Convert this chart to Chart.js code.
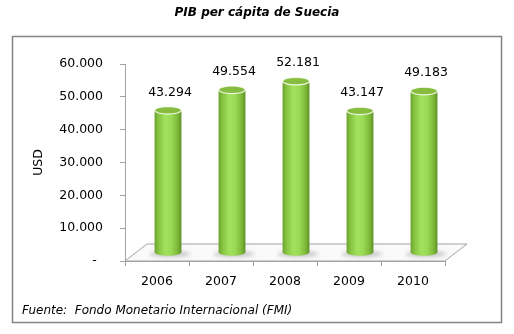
<!DOCTYPE html>
<html>
<head>
<meta charset="utf-8">
<script src="https://cdn.jsdelivr.net/npm/chart.js@4/dist/chart.umd.min.js"></script>
<style>
  html, body { margin: 0; padding: 0; background: #fff; }
  #wrap { width: 514px; height: 334px; }
</style>
</head>
<body>
<div id="wrap"><canvas id="ch-pib"></canvas></div>
<script>
const years = ['2006', '2007', '2008', '2009', '2010'];
const pibUsd = [43294, 49554, 52181, 43147, 49183];
const yTicks = [0, 10000, 20000, 30000, 40000, 50000, 60000];

const titleText = 'PIB per cápita de Suecia';
const sourceText = 'Fuente:  Fondo Monetario Internacional (FMI)';

const FONT = "'DejaVu Sans', Verdana, sans-serif";
const lineGray = '#a3a3a3';

// profundidad del "suelo" 3D y desplazamiento de las columnas
const depthX = 22, depthY = 17;

const miles = v => String(Math.round(v)).replace(/\B(?=(\d{3})+(?!\d))/g, '.');

// marco, título y fuente
const frame = {
  id: 'frame',
  beforeDraw(chart) {
    const { ctx } = chart;
    ctx.save();
    ctx.strokeStyle = '#858585';
    ctx.lineWidth = 1.5;
    ctx.strokeRect(12.5, 36.5, 489, 286);
    ctx.fillStyle = '#000';
    ctx.textAlign = 'center';
    ctx.textBaseline = 'middle';
    ctx.font = `italic bold 12px ${FONT}`;
    ctx.fillText(titleText, 257, 13);
    ctx.textAlign = 'left';
    ctx.font = `italic 12px ${FONT}`;
    ctx.fillText(sourceText, 22, 311);
    ctx.restore();
  },
};

// suelo en perspectiva
const floor = {
  id: 'floor',
  beforeDatasetsDraw(chart) {
    const { ctx, chartArea: a } = chart;
    ctx.save();
    ctx.beginPath();
    ctx.moveTo(a.left, a.bottom);
    ctx.lineTo(a.left + depthX, a.bottom - depthY);
    ctx.lineTo(a.right + depthX, a.bottom - depthY);
    ctx.lineTo(a.right, a.bottom);
    ctx.closePath();
    ctx.fillStyle = '#fafafa';
    ctx.fill();
    ctx.strokeStyle = lineGray;
    ctx.lineWidth = 1;
    ctx.stroke();
    ctx.restore();
  },
};

// columnas cilíndricas sobre las posiciones de la escala
const cylinders = {
  id: 'cylinders',
  afterDatasetsDraw(chart) {
    const { ctx } = chart;
    const meta = chart.getDatasetMeta(0);
    meta.data.forEach((bar, i) => {
      const cx = bar.x + depthX / 2;
      const top = bar.y - depthY / 2;
      const bottom = bar.base - depthY / 2;
      const rx = bar.width / 2;
      const ry = 3.8;
      ctx.save();

      // sombra
      ctx.filter = 'blur(2px)';
      ctx.fillStyle = 'rgba(0,0,0,0.22)';
      ctx.beginPath();
      ctx.ellipse(cx + 2, bottom + 2, rx + 7, 3, 0, 0, Math.PI * 2);
      ctx.fill();
      ctx.filter = 'none';

      // cuerpo
      const g = ctx.createLinearGradient(cx - rx, 0, cx + rx, 0);
      g.addColorStop(0, '#6aa22e');
      g.addColorStop(0.15, '#86c441');
      g.addColorStop(0.4, '#a3e25f');
      g.addColorStop(0.62, '#9ad955');
      g.addColorStop(0.85, '#7fba3b');
      g.addColorStop(1, '#5e9226');
      ctx.beginPath();
      ctx.moveTo(cx - rx, top);
      ctx.lineTo(cx - rx, bottom);
      ctx.ellipse(cx, bottom, rx, ry, 0, Math.PI, 0, true);
      ctx.lineTo(cx + rx, top);
      ctx.closePath();
      ctx.fillStyle = g;
      ctx.fill();

      // tapa
      ctx.beginPath();
      ctx.ellipse(cx, top, rx, ry, 0, 0, Math.PI * 2);
      ctx.fillStyle = '#86bd40';
      ctx.fill();
      ctx.strokeStyle = 'rgba(255,255,255,0.85)';
      ctx.lineWidth = 1.2;
      ctx.stroke();

      // etiqueta del valor
      ctx.fillStyle = '#000';
      ctx.font = `12.5px ${FONT}`;
      ctx.textAlign = 'center';
      ctx.textBaseline = 'middle';
      ctx.fillText(miles(pibUsd[i]), cx + 2, top - 18);
      ctx.restore();
    });
  },
};

new Chart(document.getElementById('ch-pib'), {
  type: 'bar',
  data: {
    labels: years,
    datasets: [{
      label: 'PIB per cápita',
      data: pibUsd,
      backgroundColor: 'rgba(0,0,0,0)',
      borderWidth: 0,
      categoryPercentage: 1,
      barPercentage: 0.42,
    }],
  },
  options: {
    responsive: true,
    maintainAspectRatio: false,
    animation: false,
    layout: { padding: { left: 20, right: 69, top: 64, bottom: 33 } },
    plugins: { legend: { display: false }, tooltip: { enabled: false } },
    scales: {
      x: {
        grid: { offset: true, drawOnChartArea: false, tickLength: 5, color: lineGray },
        border: { color: lineGray },
        ticks: { color: '#000', padding: 8, font: { family: FONT, size: 12.5 } },
        afterFit: s => { s.height = 40; },
      },
      y: {
        min: 0,
        max: 60000,
        afterBuildTicks: s => { s.ticks = yTicks.map(v => ({ value: v })); },
        grid: { drawOnChartArea: false, tickLength: 5, color: lineGray },
        border: { color: lineGray },
        ticks: {
          color: '#000',
          padding: 17,
          font: { family: FONT, size: 12.5 },
          callback: v => v === 0 ? '-\u2002' : miles(v),
        },
        title: {
          display: true,
          text: 'USD',
          color: '#000',
          padding: { top: 11.5, bottom: 0 },
          font: { family: FONT, size: 12.5 },
        },
        afterFit: s => { s.width = 105; },
      },
    },
  },
  plugins: [frame, floor, cylinders],
});
</script>
</body>
</html>
